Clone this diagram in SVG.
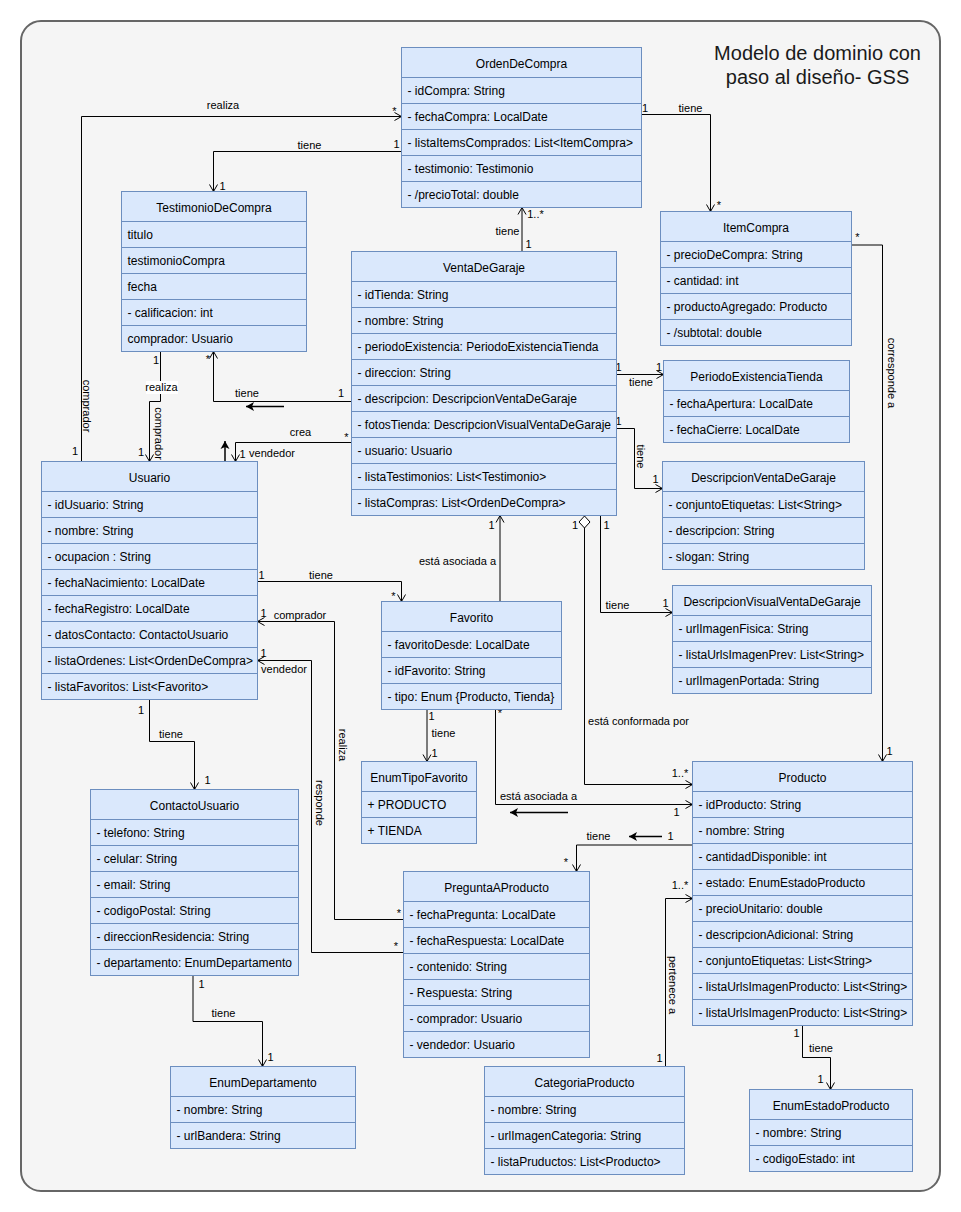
<svg xmlns="http://www.w3.org/2000/svg" width="961" height="1212" viewBox="0 0 961 1212">
  <defs>
    <style>
      .box { fill: #dae8fc; stroke: #6c8ebf; stroke-width: 1; }
      .sep { stroke: #6c8ebf; stroke-width: 1; }
      text { font-family: "Liberation Sans", Arial, Helvetica, sans-serif; fill: #000; }
      .hd { font-size: 12px; text-anchor: middle; }
      .at { font-size: 12px; }
      .lb { font-size: 11px; }
      .mid { text-anchor: middle; }
      .edge { fill: none; stroke: #000; stroke-width: 1; marker-end: url(#open); }
      .dir { fill: none; stroke: #000; stroke-width: 1.5; marker-end: url(#solid); }
      .title { font-size: 20px; text-anchor: middle; fill: #1a1a1a; }
    </style>
    <marker id="open" markerUnits="userSpaceOnUse" viewBox="-9 -6 10 12" markerWidth="10" markerHeight="12" refX="0" refY="0" orient="auto" overflow="visible">
      <path d="M-7,-4 L0,0 L-7,4" fill="none" stroke="#000" stroke-width="1"/>
    </marker>
    <marker id="solid" markerUnits="userSpaceOnUse" viewBox="-9 -6 10 12" markerWidth="10" markerHeight="12" refX="0" refY="0" orient="auto" overflow="visible">
      <path d="M-8,-4.5 L0,0 L-8,4.5 L-6,0 Z" fill="#000" stroke="none"/>
    </marker>
  </defs>

  <!-- frame -->
  <rect x="21" y="21" width="919" height="1170" rx="20" ry="20" fill="#f5f5f5" stroke="#666" stroke-width="2"/>
  <text class="title" x="817.5" y="60">Modelo de dominio con</text>
  <text class="title" x="817.5" y="84">paso al diseño- GSS</text>

  <!-- connectors -->
  <g id="connectors">
    <path class="edge" d="M81.5,461.5 V116.5 H401.5"/>
    <path class="edge" d="M401.5,151.5 H213.5 V191.5"/>
    <path class="edge" d="M641.5,114.5 H710.5 V211.5"/>
    <path class="edge" d="M522,251.5 V207.5"/>
    <path class="edge" d="M351.5,401.5 H213.5 V351.5"/>
    <path class="edge" d="M351.5,442.5 H235.5 V461.5"/>
    <path class="edge" d="M160.5,351.5 V401.5 H149.5 V461.5"/>
    <path class="edge" d="M149.5,699.5 V741.5 H194.5 V789.5"/>
    <path class="edge" d="M257.5,581.5 H401.5 V601.5"/>
    <path class="edge" d="M403.5,919.5 H334.5 V621.5 H257.5"/>
    <path class="edge" d="M403.5,952.5 H311.5 V660.5 H257.5"/>
    <path class="edge" d="M500,601.5 V515.5"/>
    <path class="edge" d="M427,709.5 V761.5"/>
    <path class="edge" d="M495.5,709.5 V804.5 H692.5"/>
    <path class="edge" d="M584.5,528 V784.5 H692.5"/>
    <path d="M584.5,516 L590,522 L584.5,528 L579,522 Z" fill="#fff" stroke="#000" stroke-width="1"/>
    <path class="edge" d="M600.5,515.5 V612.5 H672.5"/>
    <path class="edge" d="M616.5,374.5 H663.5"/>
    <path class="edge" d="M616.5,428.5 H634.5 V488.5 H662.5"/>
    <path class="edge" d="M851.5,245 H882.5 V761.5"/>
    <path class="edge" d="M692.5,845 H576.5 V871.5"/>
    <path class="edge" d="M665.5,1066.5 V898.5 H692.5"/>
    <path class="edge" d="M193,975.5 V1021.5 H262.5 V1066.5"/>
    <path class="edge" d="M802.5,1025.5 V1057.5 H830.5 V1089.5"/>

    <!-- reading-direction arrows -->
    <path class="dir" d="M284,406.5 H246"/>
    <path class="dir" d="M225,461 V441"/>
    <path class="dir" d="M568,812.5 H510"/>
    <path class="dir" d="M662,836.5 H629"/>

    <!-- labels -->
    <text class="lb mid" x="223" y="109">realiza</text>
    <text class="lb mid" x="394.5" y="115">*</text>
    <text class="lb mid" x="309.5" y="149">tiene</text>
    <text class="lb mid" x="396.5" y="148">1</text>
    <text class="lb mid" x="222.5" y="190">1</text>
    <text class="lb mid" x="645" y="112">1</text>
    <text class="lb mid" x="690.5" y="112">tiene</text>
    <text class="lb mid" x="719" y="209">*</text>
    <text class="lb mid" x="535.5" y="218">1..*</text>
    <text class="lb mid" x="507.5" y="235">tiene</text>
    <text class="lb mid" x="528.5" y="248">1</text>
    <text class="lb mid" x="857.5" y="241">*</text>
    <text class="lb mid" x="156" y="364">1</text>
    <text class="lb mid" x="208" y="363">*</text>
    <rect x="146" y="381" width="32" height="13" fill="#fff"/>
    <text class="lb mid" x="161.5" y="391">realiza</text>
    <text class="lb mid" x="247" y="397">tiene</text>
    <text class="lb mid" x="341" y="397">1</text>
    <text class="lb mid" x="300.5" y="436">crea</text>
    <text class="lb mid" x="346.5" y="441">*</text>
    <text class="lb mid" x="242.5" y="458">1</text>
    <text class="lb mid" x="272" y="457">vendedor</text>
    <text class="lb mid" x="75" y="455">1</text>
    <text class="lb mid" x="141" y="456">1</text>
    <text class="lb mid" transform="translate(83,406) rotate(90)">comprador</text>
    <text class="lb mid" transform="translate(155,433.5) rotate(90)">comprador</text>
    <text class="lb mid" transform="translate(339,745) rotate(90)">realiza</text>
    <text class="lb mid" transform="translate(316,803) rotate(90)">responde</text>
    <text class="lb mid" transform="translate(636.5,456.5) rotate(90)">tiene</text>
    <text class="lb mid" transform="translate(888,373) rotate(90)">corresponde a</text>
    <text class="lb mid" transform="translate(669,985) rotate(90)">pertenece a</text>
    <text class="lb mid" x="618.5" y="371">1</text>
    <text class="lb mid" x="659" y="371">1</text>
    <text class="lb mid" x="641" y="386">tiene</text>
    <text class="lb mid" x="618.5" y="425">1</text>
    <text class="lb mid" x="655.5" y="483">1</text>
    <text class="lb mid" x="261.5" y="579">1</text>
    <text class="lb mid" x="321" y="579">tiene</text>
    <text class="lb mid" x="393.5" y="600">*</text>
    <text class="lb mid" x="263.5" y="617">1</text>
    <text class="lb mid" x="300" y="619">comprador</text>
    <text class="lb mid" x="263.5" y="657">1</text>
    <text class="lb mid" x="284" y="673">vendedor</text>
    <text class="lb mid" x="141" y="714">1</text>
    <text class="lb mid" x="171" y="738">tiene</text>
    <text class="lb mid" x="431.5" y="720">1</text>
    <text class="lb mid" x="443.5" y="737">tiene</text>
    <text class="lb mid" x="434.5" y="757">1</text>
    <text class="lb mid" x="457.5" y="565">está asociada a</text>
    <text class="lb mid" x="491.5" y="529">1</text>
    <text class="lb mid" x="575" y="529">1</text>
    <text class="lb mid" x="606.5" y="529">1</text>
    <text class="lb mid" x="500" y="717">*</text>
    <text class="lb mid" x="538.5" y="800">está asociada a</text>
    <text class="lb mid" x="617.5" y="609">tiene</text>
    <text class="lb mid" x="665.5" y="607">1</text>
    <text class="lb mid" x="638.5" y="725">está conformada por</text>
    <text class="lb mid" x="680" y="777">1..*</text>
    <text class="lb mid" x="889.5" y="755">1</text>
    <text class="lb mid" x="676.5" y="816">1</text>
    <text class="lb mid" x="207.5" y="784">1</text>
    <text class="lb mid" x="399" y="917">*</text>
    <text class="lb mid" x="396" y="950">*</text>
    <text class="lb mid" x="201.5" y="988">1</text>
    <text class="lb mid" x="223.5" y="1017">tiene</text>
    <text class="lb mid" x="270.5" y="1061">1</text>
    <text class="lb mid" x="598.5" y="840">tiene</text>
    <text class="lb mid" x="670.5" y="840">1</text>
    <text class="lb mid" x="566" y="866">*</text>
    <text class="lb mid" x="680" y="889">1..*</text>
    <text class="lb mid" x="659.5" y="1062">1</text>
    <text class="lb mid" x="796.5" y="1037">1</text>
    <text class="lb mid" x="821" y="1052">tiene</text>
    <text class="lb mid" x="820.5" y="1083">1</text>
  </g>

  <!-- classes -->
  <g id="OrdenDeCompra">
    <rect class="box" x="401.5" y="47.5" width="240" height="160"/>
    <path class="sep" d="M401.5,77.5 H641.5 M401.5,103.5 H641.5 M401.5,129.5 H641.5 M401.5,155.5 H641.5 M401.5,181.5 H641.5"/>
    <text class="hd" x="521.5" y="67.5">OrdenDeCompra</text>
    <text class="at" x="407.5" y="94.5">- idCompra: String</text>
    <text class="at" x="407.5" y="120.5">- fechaCompra: LocalDate</text>
    <text class="at" x="407.5" y="146.5">- listaItemsComprados: List&lt;ItemCompra&gt;</text>
    <text class="at" x="407.5" y="172.5">- testimonio: Testimonio</text>
    <text class="at" x="407.5" y="198.5">- /precioTotal: double</text>
  </g>

  <g id="TestimonioDeCompra">
    <rect class="box" x="121.5" y="191.5" width="185" height="160"/>
    <path class="sep" d="M121.5,221.5 H306.5 M121.5,247.5 H306.5 M121.5,273.5 H306.5 M121.5,299.5 H306.5 M121.5,325.5 H306.5"/>
    <text class="hd" x="214" y="211.5">TestimonioDeCompra</text>
    <text class="at" x="127.5" y="238.5">titulo</text>
    <text class="at" x="127.5" y="264.5">testimonioCompra</text>
    <text class="at" x="127.5" y="290.5">fecha</text>
    <text class="at" x="127.5" y="316.5">- calificacion: int</text>
    <text class="at" x="127.5" y="342.5">comprador: Usuario</text>
  </g>

  <g id="ItemCompra">
    <rect class="box" x="660.5" y="211.5" width="191" height="134"/>
    <path class="sep" d="M660.5,241.5 H851.5 M660.5,267.5 H851.5 M660.5,293.5 H851.5 M660.5,319.5 H851.5"/>
    <text class="hd" x="756" y="231.5">ItemCompra</text>
    <text class="at" x="666.5" y="258.5">- precioDeCompra: String</text>
    <text class="at" x="666.5" y="284.5">- cantidad: int</text>
    <text class="at" x="666.5" y="310.5">- productoAgregado: Producto</text>
    <text class="at" x="666.5" y="336.5">- /subtotal: double</text>
  </g>

  <g id="VentaDeGaraje">
    <rect class="box" x="351.5" y="251.5" width="265" height="264"/>
    <path class="sep" d="M351.5,281.5 H616.5 M351.5,307.5 H616.5 M351.5,333.5 H616.5 M351.5,359.5 H616.5 M351.5,385.5 H616.5 M351.5,411.5 H616.5 M351.5,437.5 H616.5 M351.5,463.5 H616.5 M351.5,489.5 H616.5"/>
    <text class="hd" x="484" y="271.5">VentaDeGaraje</text>
    <text class="at" x="357.5" y="298.5">- idTienda: String</text>
    <text class="at" x="357.5" y="324.5">- nombre: String</text>
    <text class="at" x="357.5" y="350.5">- periodoExistencia: PeriodoExistenciaTienda</text>
    <text class="at" x="357.5" y="376.5">- direccion: String</text>
    <text class="at" x="357.5" y="402.5">- descripcion: DescripcionVentaDeGaraje</text>
    <text class="at" x="357.5" y="428.5">- fotosTienda: DescripcionVisualVentaDeGaraje</text>
    <text class="at" x="357.5" y="454.5">- usuario: Usuario</text>
    <text class="at" x="357.5" y="480.5">- listaTestimonios: List&lt;Testimonio&gt;</text>
    <text class="at" x="357.5" y="506.5">- listaCompras: List&lt;OrdenDeCompra&gt;</text>
  </g>

  <g id="PeriodoExistenciaTienda">
    <rect class="box" x="663.5" y="360.5" width="186" height="82"/>
    <path class="sep" d="M663.5,390.5 H849.5 M663.5,416.5 H849.5"/>
    <text class="hd" x="756.5" y="380.5">PeriodoExistenciaTienda</text>
    <text class="at" x="669.5" y="407.5">- fechaApertura: LocalDate</text>
    <text class="at" x="669.5" y="433.5">- fechaCierre: LocalDate</text>
  </g>

  <g id="DescripcionVentaDeGaraje">
    <rect class="box" x="662.5" y="461.5" width="202" height="108"/>
    <path class="sep" d="M662.5,491.5 H864.5 M662.5,517.5 H864.5 M662.5,543.5 H864.5"/>
    <text class="hd" x="763.5" y="481.5">DescripcionVentaDeGaraje</text>
    <text class="at" x="668.5" y="508.5">- conjuntoEtiquetas: List&lt;String&gt;</text>
    <text class="at" x="668.5" y="534.5">- descripcion: String</text>
    <text class="at" x="668.5" y="560.5">- slogan: String</text>
  </g>

  <g id="DescripcionVisualVentaDeGaraje">
    <rect class="box" x="672.5" y="585.5" width="199" height="108"/>
    <path class="sep" d="M672.5,615.5 H871.5 M672.5,641.5 H871.5 M672.5,667.5 H871.5"/>
    <text class="hd" x="772" y="605.5">DescripcionVisualVentaDeGaraje</text>
    <text class="at" x="678.5" y="632.5">- urlImagenFisica: String</text>
    <text class="at" x="678.5" y="658.5">- listaUrlsImagenPrev: List&lt;String&gt;</text>
    <text class="at" x="678.5" y="684.5">- urlImagenPortada: String</text>
  </g>

  <g id="Usuario">
    <rect class="box" x="41.5" y="461.5" width="216" height="238"/>
    <path class="sep" d="M41.5,491.5 H257.5 M41.5,517.5 H257.5 M41.5,543.5 H257.5 M41.5,569.5 H257.5 M41.5,595.5 H257.5 M41.5,621.5 H257.5 M41.5,647.5 H257.5 M41.5,673.5 H257.5"/>
    <text class="hd" x="149.5" y="481.5">Usuario</text>
    <text class="at" x="47.5" y="508.5">- idUsuario: String</text>
    <text class="at" x="47.5" y="534.5">- nombre: String</text>
    <text class="at" x="47.5" y="560.5">- ocupacion : String</text>
    <text class="at" x="47.5" y="586.5">- fechaNacimiento: LocalDate</text>
    <text class="at" x="47.5" y="612.5">- fechaRegistro: LocalDate</text>
    <text class="at" x="47.5" y="638.5">- datosContacto: ContactoUsuario</text>
    <text class="at" x="47.5" y="664.5">- listaOrdenes: List&lt;OrdenDeCompra&gt;</text>
    <text class="at" x="47.5" y="690.5">- listaFavoritos: List&lt;Favorito&gt;</text>
  </g>

  <g id="Favorito">
    <rect class="box" x="381.5" y="601.5" width="180" height="108"/>
    <path class="sep" d="M381.5,631.5 H561.5 M381.5,657.5 H561.5 M381.5,683.5 H561.5"/>
    <text class="hd" x="471.5" y="621.5">Favorito</text>
    <text class="at" x="387.5" y="648.5">- favoritoDesde: LocalDate</text>
    <text class="at" x="387.5" y="674.5">- idFavorito: String</text>
    <text class="at" x="387.5" y="700.5">- tipo: Enum {Producto, Tienda}</text>
  </g>

  <g id="EnumTipoFavorito">
    <rect class="box" x="361.5" y="761.5" width="115" height="82"/>
    <path class="sep" d="M361.5,791.5 H476.5 M361.5,817.5 H476.5"/>
    <text class="hd" x="419" y="781.5">EnumTipoFavorito</text>
    <text class="at" x="367.5" y="808.5">+ PRODUCTO</text>
    <text class="at" x="367.5" y="834.5">+ TIENDA</text>
  </g>

  <g id="ContactoUsuario">
    <rect class="box" x="90.5" y="789.5" width="208" height="186"/>
    <path class="sep" d="M90.5,819.5 H298.5 M90.5,845.5 H298.5 M90.5,871.5 H298.5 M90.5,897.5 H298.5 M90.5,923.5 H298.5 M90.5,949.5 H298.5"/>
    <text class="hd" x="194.5" y="809.5">ContactoUsuario</text>
    <text class="at" x="96.5" y="836.5">- telefono: String</text>
    <text class="at" x="96.5" y="862.5">- celular: String</text>
    <text class="at" x="96.5" y="888.5">- email: String</text>
    <text class="at" x="96.5" y="914.5">- codigoPostal: String</text>
    <text class="at" x="96.5" y="940.5">- direccionResidencia: String</text>
    <text class="at" x="96.5" y="966.5">- departamento: EnumDepartamento</text>
  </g>

  <g id="PreguntaAProducto">
    <rect class="box" x="403.5" y="871.5" width="186" height="186"/>
    <path class="sep" d="M403.5,901.5 H589.5 M403.5,927.5 H589.5 M403.5,953.5 H589.5 M403.5,979.5 H589.5 M403.5,1005.5 H589.5 M403.5,1031.5 H589.5"/>
    <text class="hd" x="496.5" y="891.5">PreguntaAProducto</text>
    <text class="at" x="409.5" y="918.5">- fechaPregunta: LocalDate</text>
    <text class="at" x="409.5" y="944.5">- fechaRespuesta: LocalDate</text>
    <text class="at" x="409.5" y="970.5">- contenido: String</text>
    <text class="at" x="409.5" y="996.5">- Respuesta: String</text>
    <text class="at" x="409.5" y="1022.5">- comprador: Usuario</text>
    <text class="at" x="409.5" y="1048.5">- vendedor: Usuario</text>
  </g>

  <g id="Producto">
    <rect class="box" x="692.5" y="761.5" width="220" height="264"/>
    <path class="sep" d="M692.5,791.5 H912.5 M692.5,817.5 H912.5 M692.5,843.5 H912.5 M692.5,869.5 H912.5 M692.5,895.5 H912.5 M692.5,921.5 H912.5 M692.5,947.5 H912.5 M692.5,973.5 H912.5 M692.5,999.5 H912.5"/>
    <text class="hd" x="802.5" y="781.5">Producto</text>
    <text class="at" x="698.5" y="808.5">- idProducto: String</text>
    <text class="at" x="698.5" y="834.5">- nombre: String</text>
    <text class="at" x="698.5" y="860.5">- cantidadDisponible: int</text>
    <text class="at" x="698.5" y="886.5">- estado: EnumEstadoProducto</text>
    <text class="at" x="698.5" y="912.5">- precioUnitario: double</text>
    <text class="at" x="698.5" y="938.5">- descripcionAdicional: String</text>
    <text class="at" x="698.5" y="964.5">- conjuntoEtiquetas: List&lt;String&gt;</text>
    <text class="at" x="698.5" y="990.5">- listaUrlsImagenProducto: List&lt;String&gt;</text>
    <text class="at" x="698.5" y="1016.5">- listaUrlsImagenProducto: List&lt;String&gt;</text>
  </g>

  <g id="EnumDepartamento">
    <rect class="box" x="170.5" y="1066.5" width="185" height="82"/>
    <path class="sep" d="M170.5,1096.5 H355.5 M170.5,1122.5 H355.5"/>
    <text class="hd" x="263" y="1086.5">EnumDepartamento</text>
    <text class="at" x="176.5" y="1113.5">- nombre: String</text>
    <text class="at" x="176.5" y="1139.5">- urlBandera: String</text>
  </g>

  <g id="CategoriaProducto">
    <rect class="box" x="484.5" y="1066.5" width="200" height="108"/>
    <path class="sep" d="M484.5,1096.5 H684.5 M484.5,1122.5 H684.5 M484.5,1148.5 H684.5"/>
    <text class="hd" x="584.5" y="1086.5">CategoriaProducto</text>
    <text class="at" x="490.5" y="1113.5">- nombre: String</text>
    <text class="at" x="490.5" y="1139.5">- urlImagenCategoria: String</text>
    <text class="at" x="490.5" y="1165.5">- listaPruductos: List&lt;Producto&gt;</text>
  </g>

  <g id="EnumEstadoProducto">
    <rect class="box" x="749.5" y="1089.5" width="163" height="82"/>
    <path class="sep" d="M749.5,1119.5 H912.5 M749.5,1145.5 H912.5"/>
    <text class="hd" x="831" y="1109.5">EnumEstadoProducto</text>
    <text class="at" x="755.5" y="1136.5">- nombre: String</text>
    <text class="at" x="755.5" y="1162.5">- codigoEstado: int</text>
  </g>
</svg>
